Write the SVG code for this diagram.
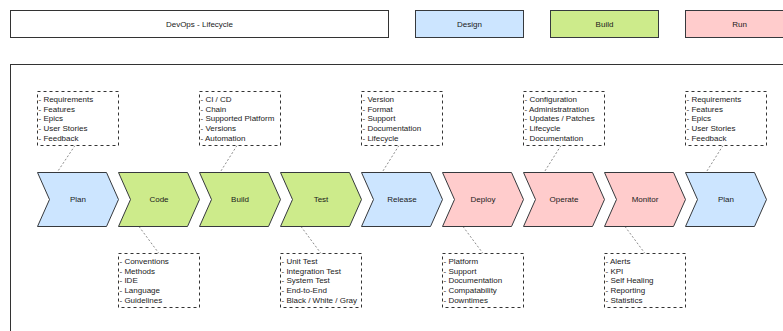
<svg xmlns="http://www.w3.org/2000/svg" width="783" height="331" viewBox="0 0 783 331">
  <defs>
    <!-- chevron step shape, 81 x 54, notch 12 -->
    <polygon id="step" points="0,0 69,0 81,27 69,54 0,54 12,27"/>
  </defs>
  <style>
    text { font-family: "Liberation Sans", Arial, sans-serif; font-size: 8px; fill: #1a1a1a; }
    .c { text-anchor: middle; dominant-baseline: central; }
    .box { stroke: #36393d; stroke-width: 1; }
    .design { fill: #cce5ff; }
    .build { fill: #cdeb8b; }
    .run { fill: #ffcccc; }
    .note rect { fill: #ffffff; stroke: #333333; stroke-width: 1; stroke-dasharray: 3 3; }
    .link { stroke: #8c8c8c; stroke-width: 1; stroke-dasharray: 2 2; fill: none; }
  </style>

  <rect width="783" height="331" fill="#ffffff"/>

  <!-- header and legend -->
  <g id="title">
    <rect x="10.5" y="10.5" width="378" height="27" fill="#ffffff" stroke="#333333"/>
    <text class="c" x="199.5" y="24">DevOps - Lifecycle</text>
  </g>
  <g id="legend-design">
    <rect class="box design" x="415.5" y="10.5" width="108" height="27"/>
    <text class="c" x="469.5" y="24">Design</text>
  </g>
  <g id="legend-build">
    <rect class="box build" x="550.5" y="10.5" width="108" height="27"/>
    <text class="c" x="604.5" y="24">Build</text>
  </g>
  <g id="legend-run">
    <rect class="box run" x="685.5" y="10.5" width="108" height="27"/>
    <text class="c" x="739.5" y="24">Run</text>
  </g>

  <!-- lifecycle container -->
  <g id="container">
    <rect x="10.5" y="64.5" width="800" height="300" fill="#ffffff" stroke="#333333"/>
  </g>

  <!-- connectors from notes to stages -->
  <g id="connectors">
    <line class="link" x1="75" y1="145.5" x2="57" y2="172.5"/>
    <line class="link" x1="237" y1="145.5" x2="220" y2="172.5"/>
    <line class="link" x1="399" y1="145.5" x2="382" y2="172.5"/>
    <line class="link" x1="561" y1="145.5" x2="544" y2="172.5"/>
    <line class="link" x1="723" y1="145.5" x2="706" y2="172.5"/>
    <line class="link" x1="139" y1="226.5" x2="159" y2="253.5"/>
    <line class="link" x1="301" y1="226.5" x2="321" y2="253.5"/>
    <line class="link" x1="463" y1="226.5" x2="483" y2="253.5"/>
    <line class="link" x1="625" y1="226.5" x2="645" y2="253.5"/>
  </g>

  <!-- stages -->
  <g id="stage-plan">
    <use href="#step" class="box design" x="37.5" y="172.5"/>
    <text class="c" x="78" y="199.5">Plan</text>
  </g>
  <g id="stage-code">
    <use href="#step" class="box build" x="118.5" y="172.5"/>
    <text class="c" x="159" y="199.5">Code</text>
  </g>
  <g id="stage-build">
    <use href="#step" class="box build" x="199.5" y="172.5"/>
    <text class="c" x="240" y="199.5">Build</text>
  </g>
  <g id="stage-test">
    <use href="#step" class="box build" x="280.5" y="172.5"/>
    <text class="c" x="321" y="199.5">Test</text>
  </g>
  <g id="stage-release">
    <use href="#step" class="box design" x="361.5" y="172.5"/>
    <text class="c" x="402" y="199.5">Release</text>
  </g>
  <g id="stage-deploy">
    <use href="#step" class="box run" x="442.5" y="172.5"/>
    <text class="c" x="483" y="199.5">Deploy</text>
  </g>
  <g id="stage-operate">
    <use href="#step" class="box run" x="523.5" y="172.5"/>
    <text class="c" x="564" y="199.5">Operate</text>
  </g>
  <g id="stage-monitor">
    <use href="#step" class="box run" x="604.5" y="172.5"/>
    <text class="c" x="645" y="199.5">Monitor</text>
  </g>
  <g id="stage-plan-next">
    <use href="#step" class="box design" x="685.5" y="172.5"/>
    <text class="c" x="726" y="199.5">Plan</text>
  </g>

  <!-- notes above -->
  <g id="note-plan" class="note">
    <rect x="37.5" y="91.5" width="81" height="54"/>
    <text x="38.5" y="102.2">- Requirements</text>
    <text x="38.5" y="111.8">- Features</text>
    <text x="38.5" y="121.4">- Epics</text>
    <text x="38.5" y="131">- User Stories</text>
    <text x="38.5" y="140.6">- Feedback</text>
  </g>
  <g id="note-build" class="note">
    <rect x="199.5" y="91.5" width="81" height="54"/>
    <text x="200.5" y="102.2">- CI / CD</text>
    <text x="200.5" y="111.8">- Chain</text>
    <text x="200.5" y="121.4">- Supported Platform</text>
    <text x="200.5" y="131">- Versions</text>
    <text x="200.5" y="140.6">- Automation</text>
  </g>
  <g id="note-release" class="note">
    <rect x="361.5" y="91.5" width="81" height="54"/>
    <text x="362.5" y="102.2">- Version</text>
    <text x="362.5" y="111.8">- Format</text>
    <text x="362.5" y="121.4">- Support</text>
    <text x="362.5" y="131">- Documentation</text>
    <text x="362.5" y="140.6">- Lifecycle</text>
  </g>
  <g id="note-operate" class="note">
    <rect x="523.5" y="91.5" width="81" height="54"/>
    <text x="524.5" y="102.2">- Configuration</text>
    <text x="524.5" y="111.8">- Administratration</text>
    <text x="524.5" y="121.4">- Updates / Patches</text>
    <text x="524.5" y="131">- Lifecycle</text>
    <text x="524.5" y="140.6">- Documentation</text>
  </g>
  <g id="note-plan-next" class="note">
    <rect x="685.5" y="91.5" width="81" height="54"/>
    <text x="686.5" y="102.2">- Requirements</text>
    <text x="686.5" y="111.8">- Features</text>
    <text x="686.5" y="121.4">- Epics</text>
    <text x="686.5" y="131">- User Stories</text>
    <text x="686.5" y="140.6">- Feedback</text>
  </g>

  <!-- notes below -->
  <g id="note-code" class="note">
    <rect x="118.5" y="253.5" width="81" height="54"/>
    <text x="119.5" y="264.2">- Conventions</text>
    <text x="119.5" y="273.8">- Methods</text>
    <text x="119.5" y="283.4">- IDE</text>
    <text x="119.5" y="293">- Language</text>
    <text x="119.5" y="302.6">- Guidelines</text>
  </g>
  <g id="note-test" class="note">
    <rect x="280.5" y="253.5" width="81" height="54"/>
    <text x="281.5" y="264.2">- Unit Test</text>
    <text x="281.5" y="273.8">- Integration Test</text>
    <text x="281.5" y="283.4">- System Test</text>
    <text x="281.5" y="293">- End-to-End</text>
    <text x="281.5" y="302.6">- Black / White / Gray</text>
  </g>
  <g id="note-deploy" class="note">
    <rect x="442.5" y="253.5" width="81" height="54"/>
    <text x="443.5" y="264.2">- Platform</text>
    <text x="443.5" y="273.8">- Support</text>
    <text x="443.5" y="283.4">- Documentation</text>
    <text x="443.5" y="293">- Compatability</text>
    <text x="443.5" y="302.6">- Downtimes</text>
  </g>
  <g id="note-monitor" class="note">
    <rect x="604.5" y="253.5" width="81" height="54"/>
    <text x="605.5" y="264.2">- Alerts</text>
    <text x="605.5" y="273.8">- KPI</text>
    <text x="605.5" y="283.4">- Self Healing</text>
    <text x="605.5" y="293">- Reporting</text>
    <text x="605.5" y="302.6">- Statistics</text>
  </g>
</svg>
